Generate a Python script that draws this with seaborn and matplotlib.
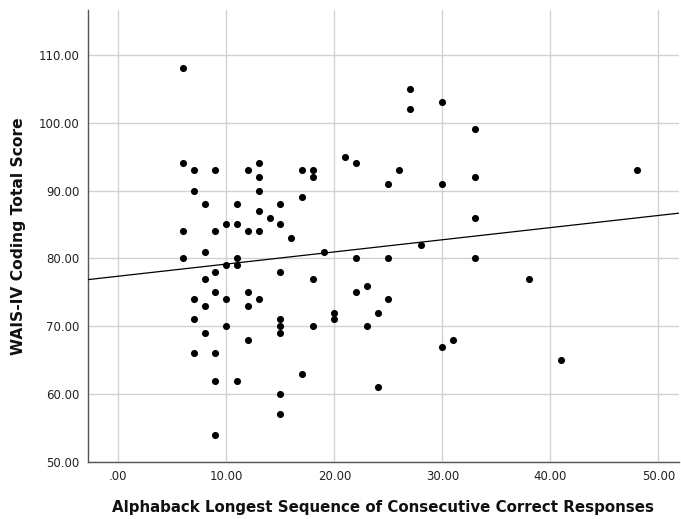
import numpy as np
import pandas as pd
import matplotlib
matplotlib.use("Agg")
import matplotlib.pyplot as plt
import seaborn as sns

# Alphaback longest sequence (x) and WAIS-IV Coding total score (y)
alphaback = [6, 6, 6, 6,
             7, 7, 7, 7, 7,
             8, 8, 8, 8, 8,
             9, 9, 9, 9, 9, 9, 9,
             10, 10, 10, 10,
             11, 11, 11, 11, 11,
             12, 12, 12, 12, 12,
             13, 13, 13, 13, 13, 13,
             14,
             15, 15, 15, 15, 15, 15, 15, 15,
             16,
             17, 17, 17,
             18, 18, 18, 18,
             19,
             20, 20,
             21,
             22, 22, 22,
             23, 23,
             24, 24,
             25, 25, 25,
             26,
             27, 27,
             28,
             30, 30, 30,
             31,
             33, 33, 33, 33,
             38, 41, 48]
coding = [108, 94, 84, 80,
          93, 90, 74, 71, 66,
          88, 81, 77, 73, 69,
          93, 84, 78, 75, 66, 62, 54,
          85, 79, 74, 70,
          88, 85, 80, 79, 62,
          93, 84, 75, 73, 68,
          94, 92, 90, 87, 84, 74,
          86,
          88, 85, 78, 71, 70, 69, 60, 57,
          83,
          93, 89, 63,
          93, 92, 77, 70,
          81,
          72, 71,
          95,
          94, 80, 75,
          76, 70,
          72, 61,
          91, 80, 74,
          93,
          105, 102,
          82,
          103, 91, 67,
          68,
          99, 92, 86, 80,
          77, 65, 93]

x_ticks = [0, 10, 20, 30, 40, 50]
x_ticklabels = [".00", "10.00", "20.00", "30.00", "40.00", "50.00"]
y_ticks = [50, 60, 70, 80, 90, 100, 110]
y_ticklabels = ["50.00", "60.00", "70.00", "80.00", "90.00", "100.00", "110.00"]

df = pd.DataFrame({"x": alphaback, "y": coding})

sns.set_style("white")
plt.rcParams["font.family"] = ["DejaVu Sans"]

fig = plt.figure(figsize=(6.81, 5.19), dpi=100)
ax = fig.add_axes([88 / 681, 1 - 462 / 519, (679 - 88) / 681, (462 - 10) / 519])
ax.set_xlim(-2.8, 51.9)
ax.set_ylim(50, 116.6)

ax.set_axisbelow(True)
ax.grid(True, color="#d2d2d2", linewidth=1.0)

sns.scatterplot(data=df, x="x", y="y", ax=ax, color="black", s=26,
                edgecolor="black", linewidth=0, zorder=3)
sns.regplot(data=df, x="x", y="y", ax=ax, scatter=False, ci=None,
            truncate=False, line_kws={"color": "black", "linewidth": 0.9, "zorder": 4})

ax.set_xlim(-2.8, 51.9)
ax.set_ylim(50, 116.6)
ax.set_xticks(x_ticks)
ax.set_xticklabels(x_ticklabels)
ax.set_yticks(y_ticks)
ax.set_yticklabels(y_ticklabels)
ax.tick_params(axis="x", length=0, labelsize=8.5, colors="#222222", pad=6)
ax.tick_params(axis="y", length=0, labelsize=8.5, colors="#222222", pad=6)

for s in ["top", "right"]:
    ax.spines[s].set_visible(False)
for s in ["left", "bottom"]:
    ax.spines[s].set_color("#555555")
    ax.spines[s].set_linewidth(1.0)

ax.set_xlabel("Alphaback Longest Sequence of Consecutive Correct Responses",
              fontsize=10.8, fontweight="bold", labelpad=12, color="#111111")
ax.set_ylabel("WAIS-IV Coding Total Score", fontsize=11.2, fontweight="bold",
              labelpad=9, color="#111111")

fig.savefig("out.png", dpi=100)
